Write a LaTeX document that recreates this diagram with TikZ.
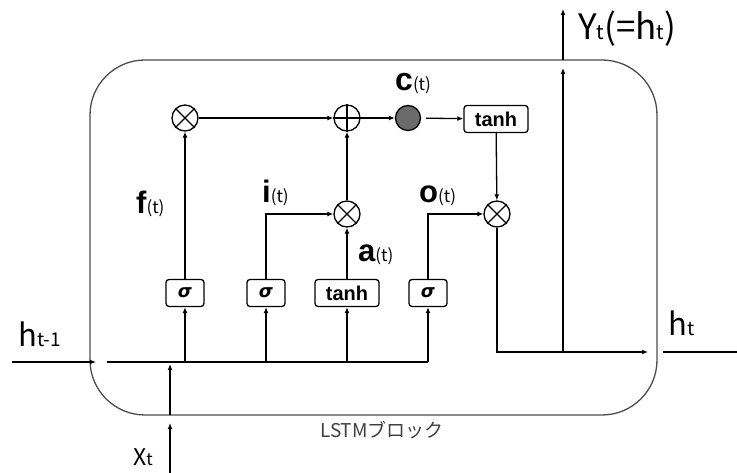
\documentclass[tikz,border=0pt]{standalone}
\usepackage{fontspec}
\setmainfont{Noto Sans CJK JP}
\newfontfamily\grfont{DejaVu Sans}
\newfontfamily\bfont{Liberation Sans}
\usetikzlibrary{arrows.meta}
\newcommand{\fs}[1]{\fontsize{#1}{#1}\selectfont}
\begin{document}
\begin{tikzpicture}[x=1pt,y=-1pt,
  ln/.style={line width=1.3pt},
  arr/.style={line width=1.3pt,-{Latex[length=6pt,width=5pt]}},
  op/.style={circle,draw,line width=1.3pt,minimum size=26pt,inner sep=0pt},
  gbox/.style={draw,rounded corners=3pt,line width=1.3pt,minimum height=27pt,inner sep=2pt},
  sig/.style={gbox,minimum width=38pt,font=\grfont\bfseries\itshape\fs{18}},
  tnh/.style={gbox,minimum width=64pt,font=\bfont\bfseries\fs{20}},
  lbl/.style={inner sep=0pt,anchor=base west},
  blk/.style={draw=black!70,line width=1.3pt,rounded corners=55pt}]
\useasboundingbox (0,0) rectangle (737,473);
% block
\draw[blk] (90,60) rectangle (657,415);
% gates
\node[sig] (s1) at (185,293) {σ};
\node[sig] (s2) at (266,293) {σ};
\node[tnh] (ta) at (347,293) {tanh};
\node[sig] (s4) at (428,293) {σ};
% operators
\node[op] (fx) at (185,118) {};
\node[op] (pl) at (347,118) {};
\node[op] (ix) at (347,214) {};
\node[op] (ox) at (497,214) {};
\node[circle,draw,line width=1.3pt,fill=black!58,minimum size=25pt,inner sep=0pt] (cc) at (408,118) {};
\node[tnh] (tb) at (496,119) {tanh};
\foreach \n in {fx,ix,ox}{
  \draw[ln] (\n.north east) -- (\n.south west);
  \draw[ln] (\n.north west) -- (\n.south east);}
\draw[ln] (pl.north) -- (pl.south) (pl.west) -- (pl.east);
% coordinates
\coordinate (hin0) at (12,362);
\coordinate (hin1) at (96,362);
\coordinate (m0) at (107,362);
\coordinate (m1) at (185,362);
\coordinate (m2) at (266,362);
\coordinate (m3) at (347,362);
\coordinate (m4) at (428,362);
\coordinate (x0) at (170,473);
\coordinate (x1) at (170,423);
\coordinate (x2) at (170,415);
\coordinate (x3) at (170,364);
\coordinate (hr) at (648,352);
\coordinate (yb) at (563,352);
\coordinate (yt) at (563,68);
\coordinate (yb2) at (563,60);
\coordinate (yt2) at (563,9);
\coordinate (ho0) at (663,352);
\coordinate (ho1) at (737,352);
% connectors
\draw[arr] (hin0) -- (hin1);
\draw[ln] (m0) -- (m4);
\draw[arr] (x0) -- (x1);
\draw[arr] (x2) -- (x3);
\draw[arr] (m1) -- (s1);
\draw[arr] (m2) -- (s2);
\draw[arr] (m3) -- (ta);
\draw[arr] (m4) -- (s4);
\draw[arr] (s1) -- (fx);
\draw[arr] (s2.north) |- (ix);
\draw[arr] (ta) -- (ix);
\draw[arr] (s4.north) |- (ox);
\draw[arr] (fx) -- (pl);
\draw[arr] (ix) -- (pl);
\draw[arr] (pl) -- (cc);
\draw[arr,shorten <=5pt] (cc) -- (tb);
\draw[arr] (tb) -- (ox);
\draw[arr] (ox.south) |- (hr);
\draw[arr] (yb) -- (yt);
\draw[arr] (yb2) -- (yt2);
\draw[ln] (ho0) -- (ho1);
% labels
\node[lbl] (lh) at (18,346) {\fs{31}h\fs{19}t-1};
\node[lbl] (ly) at (578,40) {\fs{35}Y\fs{20}t\fs{35}(=h\fs{20}t\fs{35})};
\node[lbl] (lht) at (668,335) {\fs{31}h\fs{19}t};
\node[lbl] (lx) at (133,465) {\fs{23}X\fs{17}t};
\node[lbl] (lc) at (395,91) {\bfont\bfseries\fs{32}c\rmfamily\mdseries\fs{17}(t)};
\node[lbl] (li) at (262,203) {\bfont\bfseries\fs{31}i\rmfamily\mdseries\fs{17}(t)};
\node[lbl] (lo) at (419,203) {\bfont\bfseries\fs{31}o\rmfamily\mdseries\fs{17}(t)};
\node[lbl] (lf) at (136,214) {\bfont\bfseries\fs{31}f\rmfamily\mdseries\fs{17}(t)};
\node[lbl] (la) at (358,262) {\bfont\bfseries\fs{31}a\rmfamily\mdseries\fs{17}(t)};
\node[lbl,text=black!75] (lb) at (320,437) {\fs{19}LSTMブロック};
\end{tikzpicture}
\end{document}
